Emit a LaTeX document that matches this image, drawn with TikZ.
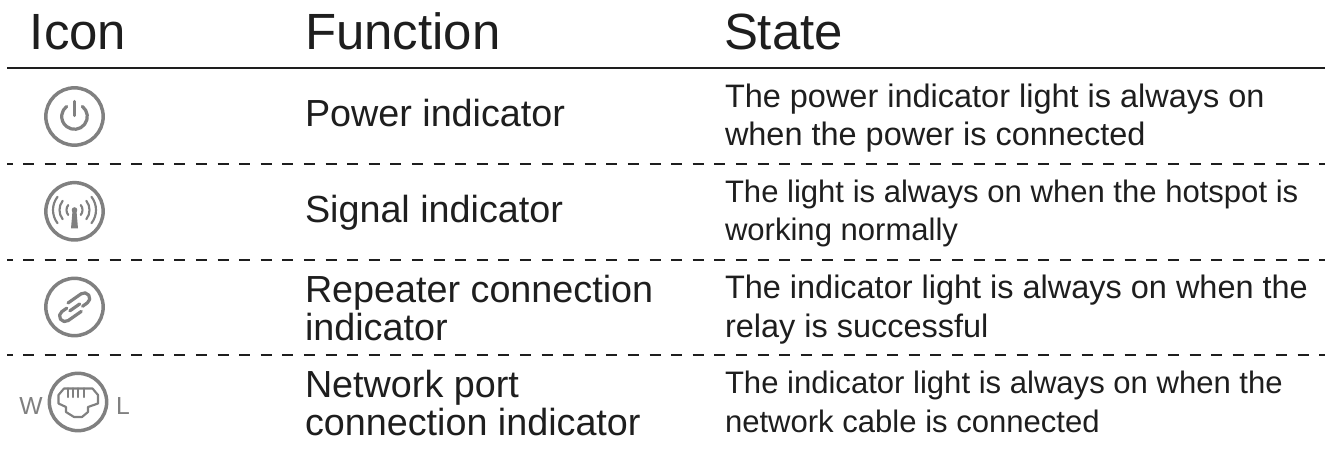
\documentclass[tikz,border=0pt]{standalone}
\usepackage{fontspec}
\usetikzlibrary{calc}
\setmainfont{Liberation Sans}
\definecolor{icongrey}{HTML}{808080}
\definecolor{ink}{HTML}{1E1E1E}
\tikzset{
  head/.style={anchor=base west,inner sep=0pt,outer sep=0pt,text=ink,font=\fontsize{38.2}{38.2}\selectfont},
  func/.style={anchor=base west,inner sep=0pt,outer sep=0pt,text=ink,font=\fontsize{28.3}{28.3}\selectfont},
  stat/.style={anchor=base west,inner sep=0pt,outer sep=0pt,text=ink,font=\fontsize{23.3}{23.3}\selectfont},
  statbig/.style={stat,font=\fontsize{24.35}{24.35}\selectfont},
  iconlabel/.style={anchor=base,inner sep=0pt,outer sep=0pt,text=icongrey,font=\fontsize{18.5}{18.5}\selectfont},
  ring/.style={draw=icongrey,line width=2.6pt,circle,minimum size=43pt,inner sep=0pt,outer sep=0pt},
  glyph/.style={draw=icongrey,line width=2.4pt,line cap=round,line join=round},
  thinglyph/.style={draw=icongrey,line width=1.6pt,line cap=round,line join=round},
  toprule/.style={draw=ink,line width=2.2pt},
  rowrule/.style={draw=ink,line width=2pt,dash pattern=on 8.3pt off 7.9pt,dash phase=4.1pt},
}
\begin{document}
\begin{tikzpicture}[x=0.75pt,y=-0.75pt]
\useasboundingbox (0,0) rectangle (1329,449);
\fill[white] (0,0) rectangle (1329,449);
% headers
\node[head] (hicon) at (30,50) {Icon};
\node[head] (hfunc) at (305,50) {Function};
\node[head] (hstate) at (724,50) {State};
% rules
\coordinate (ruleL) at (7,68); \coordinate (ruleR) at (1325,68);
\draw[toprule] (ruleL) -- (ruleR);
\foreach \y in {164,260,355}{
  \coordinate (dl\y) at (7,\y); \coordinate (dr\y) at (1325,\y);
  \draw[rowrule] (dl\y) -- (dr\y);
}
% function column
\node[func] (f1) at (305,127) {Power indicator};
\node[func] (f2) at (305,223) {Signal indicator};
\node[func] (f3a) at (305,302) {Repeater connection};
\node[func] (f3b) at (305,340) {indicator};
\node[func] (f4a) at (305,397) {Network port};
\node[func] (f4b) at (305,435) {connection indicator};
% state column
\node[statbig] (s1a) at (725,108) {The power indicator light is always on};
\node[statbig] (s1b) at (725,146) {when the power is connected};
\node[stat] (s2a) at (725,203) {The light is always on when the hotspot is};
\node[stat] (s2b) at (725,241) {working normally};
\node[statbig] (s3a) at (725,298.5) {The indicator light is always on when the};
\node[statbig] (s3b) at (725,337) {relay is successful};
\node[stat] (s4a) at (725,393.5) {The indicator light is always on when the};
\node[stat] (s4b) at (725,432) {network cable is connected};
% power icon
\node[ring] (i1) at (74.5,116.5) {};
\draw[glyph] (i1.center) ++(-52:12.8) arc[start angle=-52,end angle=232,radius=12.8];
\draw[glyph] ($(i1.center)+(0,-15)$) -- ($(i1.center)+(0,-1)$);
% signal icon
\node[ring] (i2) at (74.5,211.3) {};
\coordinate (mast) at (74.5,210);
\fill[icongrey] (mast) circle[radius=2.8];
\fill[icongrey] (72.5,211) -- (76.5,211) -- (78,228.5) -- (71,228.5) -- cycle;
\foreach \r in {8,15,21.5}{
  \draw[thinglyph] (mast) ++(-38:\r) arc[start angle=-38,end angle=38,radius=\r];
  \draw[thinglyph] (mast) ++(142:\r) arc[start angle=142,end angle=218,radius=\r];
}
% link icon
\node[ring] (i3) at (74.5,307) {};
\begin{scope}[shift={(i3.center)},rotate=35]
  \draw[glyph] (-3,-7) -- (13,-7) arc[start angle=-90,end angle=90,radius=5.5] -- (7,4);
  \draw[glyph] (3,7.5) -- (-13,7.5) arc[start angle=90,end angle=270,radius=5.5] -- (-7,-3.5);
  \draw[glyph] (-6,0.5) -- (6,0.5);
\end{scope}
% network port icon
\node[ring] (i4) at (78,402) {};
\draw[thinglyph] (64,388.5) -- (58.5,395) -- (58.5,403.5) -- (66,407) -- (66,412) -- (74,417) -- (82,417) -- (88,412) -- (88,407) -- (98,403.5) -- (98,395) -- (92.5,388.5) -- cycle;
\foreach \x in {68,73,78,84}{
  \draw[thinglyph] (\x,388.5) -- (\x,397);
}
\node[iconlabel] (w) at (31,414) {W};
\node[iconlabel] (l) at (123,414) {L};
\end{tikzpicture}
\end{document}
